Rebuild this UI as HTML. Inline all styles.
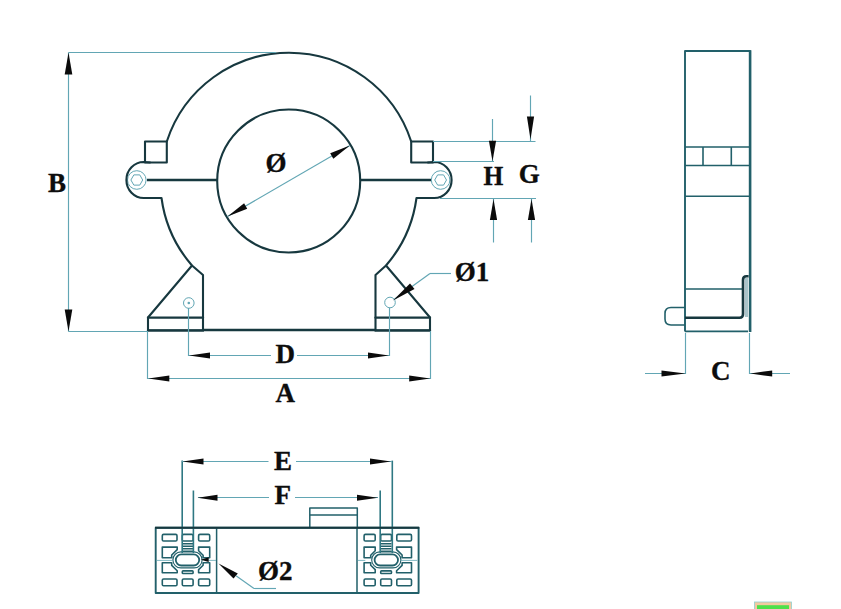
<!DOCTYPE html>
<html><head><meta charset="utf-8"><title>Dimensions</title>
<style>
html,body{margin:0;padding:0;background:#fff;}
body{width:841px;height:609px;overflow:hidden;}
svg{display:block;}
text{font-family:"Liberation Serif","DejaVu Serif",serif;font-weight:bold;fill:#0d0d0d;stroke:#0d0d0d;stroke-width:0.35px;}
</style></head><body>
<svg width="841" height="609" viewBox="0 0 841 609">
<rect width="841" height="609" fill="#fff"/>

<g fill="none" stroke="#62a6b4" stroke-width="1">
<circle cx="136.8" cy="180" r="9.3"/>
<polygon points="142.70,180.00 139.75,185.11 133.85,185.11 130.90,180.00 133.85,174.89 139.75,174.89"/>
<circle cx="440.6" cy="180" r="9.3"/>
<polygon points="446.50,180.00 443.55,185.11 437.65,185.11 434.70,180.00 437.65,174.89 443.55,174.89"/>
<circle cx="188.8" cy="303" r="5.3"/>
<circle cx="390" cy="302.5" r="5.3"/>
</g>
<circle cx="188.8" cy="303" r="1.3" fill="#62a6b4"/>
<g fill="none" stroke="#17383f" stroke-width="2.1" stroke-linejoin="round" stroke-linecap="round">
<path d="M166.8,141.5 A128.5,128.5 0 0 1 411.2,141.5"/>
<rect x="145" y="141.5" width="21.8" height="21"/>
<rect x="411.2" y="141.5" width="21.8" height="21"/>
<path d="M150,162.5 L143.7,162 A17.3,18 0 0 0 143.7,198 L161.5,198 A129.5,129.5 0 0 0 192,265.5 L148,317.5 L148,330.5 L203,330.5 L203,275 L192,265.5"/>
<path d="M428,162.5 L434.3,162 A17.3,18 0 0 1 434.3,198 L416.5,198 A129.5,129.5 0 0 1 386,265.5 L430,317.5 L430,330.5 L375.5,330.5 L375.5,275 L386,265.5"/>
<path d="M148,317.6 H203 M375.5,317.6 H430 M148,330.4 H203 M375.5,330.4 H430" stroke-width="2.4"/>
<circle cx="288.7" cy="181" r="71.5"/>
</g>
<g stroke="#17383f" stroke-width="2.6" fill="none">
<path d="M147,180 H217 M360.5,180 H431"/>
<path d="M203,330 H375.5"/>
</g>
<line x1="68.5" y1="52.5" x2="276" y2="52.5" stroke="#62a6b4" stroke-width="1.15"/>
<line x1="68.5" y1="52.5" x2="68.5" y2="331.5" stroke="#62a6b4" stroke-width="1.15"/>
<line x1="68.5" y1="331.5" x2="148" y2="331.5" stroke="#62a6b4" stroke-width="1.15"/>
<polygon points="68.50,52.50 72.30,74.50 64.70,74.50" fill="#0b0b0b"/>
<polygon points="68.50,331.50 64.70,309.50 72.30,309.50" fill="#0b0b0b"/>
<text x="48" y="191.5" font-size="27">B</text>
<line x1="227.5" y1="216.6" x2="349.9" y2="145.4" stroke="#62a6b4" stroke-width="1.15"/>
<polygon points="227.51,216.61 244.10,203.37 247.22,208.73" fill="#0b0b0b"/>
<polygon points="349.89,145.39 333.30,158.63 330.18,153.27" fill="#0b0b0b"/>
<text x="265.6" y="172" font-size="27">Ø</text>
<line x1="433" y1="141.5" x2="535.5" y2="141.5" stroke="#62a6b4" stroke-width="1.15"/>
<line x1="433" y1="161.5" x2="494" y2="161.5" stroke="#62a6b4" stroke-width="1.15"/>
<line x1="440" y1="198.5" x2="536" y2="198.5" stroke="#62a6b4" stroke-width="1.15"/>
<line x1="492.5" y1="119" x2="492.5" y2="161.5" stroke="#62a6b4" stroke-width="1.15"/>
<line x1="530.5" y1="95.5" x2="530.5" y2="141" stroke="#62a6b4" stroke-width="1.15"/>
<line x1="493.5" y1="199" x2="493.5" y2="242.5" stroke="#62a6b4" stroke-width="1.15"/>
<line x1="531.5" y1="199" x2="531.5" y2="242.5" stroke="#62a6b4" stroke-width="1.15"/>
<polygon points="492.50,161.30 488.90,140.80 496.10,140.80" fill="#0b0b0b"/>
<polygon points="530.50,139.60 526.90,116.60 534.10,116.60" fill="#0b0b0b"/>
<polygon points="493.50,199.00 497.10,220.00 489.90,220.00" fill="#0b0b0b"/>
<polygon points="531.50,199.00 535.10,220.00 527.90,220.00" fill="#0b0b0b"/>
<text x="483.4" y="185" font-size="27" textLength="19.8" lengthAdjust="spacingAndGlyphs">H</text>
<text x="518.8" y="183" font-size="27">G</text>
<line x1="394" y1="299.5" x2="430" y2="273.5" stroke="#62a6b4" stroke-width="1.15"/>
<line x1="430" y1="273.5" x2="451" y2="273.5" stroke="#62a6b4" stroke-width="1.15"/>
<polygon points="393,300.5 410,283.5 414.5,289" fill="#0b0b0b"/>
<text x="454.8" y="281" font-size="27">Ø1</text>
<line x1="188.5" y1="308" x2="188.5" y2="356" stroke="#62a6b4" stroke-width="1.15"/>
<line x1="389.5" y1="308" x2="389.5" y2="356" stroke="#62a6b4" stroke-width="1.15"/>
<line x1="189" y1="355.5" x2="271" y2="355.5" stroke="#62a6b4" stroke-width="1.15"/>
<line x1="297" y1="355.5" x2="389" y2="355.5" stroke="#62a6b4" stroke-width="1.15"/>
<polygon points="189.00,355.50 210.00,352.45 210.00,358.55" fill="#0b0b0b"/>
<polygon points="389.00,355.50 368.00,358.55 368.00,352.45" fill="#0b0b0b"/>
<text x="275.5" y="363" font-size="27">D</text>
<line x1="147.5" y1="331" x2="147.5" y2="379" stroke="#62a6b4" stroke-width="1.15"/>
<line x1="430.5" y1="331" x2="430.5" y2="379" stroke="#62a6b4" stroke-width="1.15"/>
<line x1="148" y1="378.5" x2="430" y2="378.5" stroke="#62a6b4" stroke-width="1.15"/>
<polygon points="148.30,378.50 169.30,375.45 169.30,381.55" fill="#0b0b0b"/>
<polygon points="430.20,378.50 409.20,381.55 409.20,375.45" fill="#0b0b0b"/>
<text x="275.5" y="401.5" font-size="27">A</text>
<path d="M746.4,278 V317" stroke="#a9c3c9" stroke-width="3.2" fill="none"/>
<g fill="none" stroke="#22606a" stroke-width="1.9" stroke-linejoin="round">
<path d="M685,331.4 V51 H750 V331.4"/>
<path d="M685,147 H750 M685,165.5 H750 M703,147 V165.5 M731.3,147 V165.5 M685,196.3 H750 M685,289 H742.5" stroke-width="1.6"/>
<path d="M685,331.4 H748"/>
<path d="M685,307.5 H671 Q665,307.5 665,313.5 V319 Q665,325 671,325 H685" stroke-width="1.6"/>
</g>
<path d="M685,317.8 H739.5 Q743,317.8 743,314.3 V280 Q743,276.3 746.5,276.3 H748.6" stroke="#17383f" stroke-width="2.6" fill="none" stroke-linejoin="round"/>
<path d="M750.1,50.2 V332" stroke="#22606a" stroke-width="2.6" fill="none"/>
<line x1="685.5" y1="333" x2="685.5" y2="374" stroke="#62a6b4" stroke-width="1.15"/>
<line x1="749.5" y1="333" x2="749.5" y2="374" stroke="#62a6b4" stroke-width="1.15"/>
<line x1="645" y1="373.5" x2="685" y2="373.5" stroke="#62a6b4" stroke-width="1.15"/>
<line x1="750" y1="373.5" x2="790" y2="373.5" stroke="#62a6b4" stroke-width="1.15"/>
<polygon points="685.50,373.50 661.50,376.55 661.50,370.45" fill="#0b0b0b"/>
<polygon points="750.20,373.50 772.20,370.45 772.20,376.55" fill="#0b0b0b"/>
<text x="711" y="380" font-size="27">C</text>
<g fill="none" stroke="#22606a" stroke-width="1.5" stroke-linejoin="round">
<rect x="155.7" y="527.8" width="262.9" height="65.2" stroke-width="1.9"/>
<path d="M216.6,527.6 V592.8 M357,527.6 V592.8"/>
<path d="M309.8,527.6 V508 H357.3 V527.6 M309.8,515 H357.3"/>
</g>
<g transform="translate(187.5,0) scale(1,1)" fill="none" stroke="#22606a" stroke-width="1.6" stroke-linejoin="round">
<rect x="-25.2" y="534.4" width="14.7" height="6.6" rx="1.3"/>
<rect x="-25.2" y="579" width="14.7" height="6.7" rx="1.3"/>
<rect x="-5.2" y="534.4" width="10.8" height="6.6" rx="1.3"/>
<rect x="-5.2" y="579" width="10.8" height="6.7" rx="1.3"/>
<rect x="11.1" y="534.4" width="11.1" height="6.6" rx="1.3"/>
<rect x="11.1" y="579" width="11.1" height="6.7" rx="1.3"/>
<path d="M-25.2,547.1 H-10.3 V549.6 L-15.8,555 V557.7 H-25.2 Z"/>
<path d="M-25.2,562.7 H-15.8 V565.4 L-10.3,570.8 V572.8 H-25.2 Z"/>
<path d="M11.1,547.1 H22.2 V557.7 H15.6 V555.2 L11.1,550.8 Z"/>
<path d="M15.6,562.7 H22.2 V572.8 H11.1 V569.6 L15.6,565.2 Z"/>
<rect x="-5.2" y="570.9" width="10.8" height="2.6" rx="0.8"/>
<path d="M-5.2,543.8 H5.8 M-5.2,546.3 H5.8 M-5.2,548.8 H5.8 M-5.2,551.2 H5.8"/>
<rect x="-11.7" y="554.4" width="23.4" height="11.1" rx="5.55" stroke-width="1.8"/>
<rect x="-14.6" y="551.9" width="29.2" height="16" rx="8" stroke-width="1.1"/>
</g>
<g transform="translate(187.5,0) scale(1,1)" fill="none" stroke="#62a6b4" stroke-width="0.8">
<path d="M-31,560.4 H-14.6 M21,560.4 H28.5"/>
</g>
<polygon transform="translate(187.5,0) scale(1,1)" points="13.3,559.7 21.2,557.2 21.2,562" fill="#0b0b0b"/>
<g transform="translate(386.3,0) scale(-1,1)" fill="none" stroke="#22606a" stroke-width="1.6" stroke-linejoin="round">
<rect x="-25.2" y="534.4" width="14.7" height="6.6" rx="1.3"/>
<rect x="-25.2" y="579" width="14.7" height="6.7" rx="1.3"/>
<rect x="-5.2" y="534.4" width="10.8" height="6.6" rx="1.3"/>
<rect x="-5.2" y="579" width="10.8" height="6.7" rx="1.3"/>
<rect x="11.1" y="534.4" width="11.1" height="6.6" rx="1.3"/>
<rect x="11.1" y="579" width="11.1" height="6.7" rx="1.3"/>
<path d="M-25.2,547.1 H-10.3 V549.6 L-15.8,555 V557.7 H-25.2 Z"/>
<path d="M-25.2,562.7 H-15.8 V565.4 L-10.3,570.8 V572.8 H-25.2 Z"/>
<path d="M11.1,547.1 H22.2 V557.7 H15.6 V555.2 L11.1,550.8 Z"/>
<path d="M15.6,562.7 H22.2 V572.8 H11.1 V569.6 L15.6,565.2 Z"/>
<rect x="-5.2" y="570.9" width="10.8" height="2.6" rx="0.8"/>
<path d="M-5.2,543.8 H5.8 M-5.2,546.3 H5.8 M-5.2,548.8 H5.8 M-5.2,551.2 H5.8"/>
<rect x="-11.7" y="554.4" width="23.4" height="11.1" rx="5.55" stroke-width="1.8"/>
<rect x="-14.6" y="551.9" width="29.2" height="16" rx="8" stroke-width="1.1"/>
</g>
<g transform="translate(386.3,0) scale(-1,1)" fill="none" stroke="#62a6b4" stroke-width="0.8">
<path d="M-31,560.4 H-14.6 M21,560.4 H28.5"/>
</g>
<line x1="182.2" y1="460.6" x2="182.2" y2="553" stroke="#2f7883" stroke-width="1.6"/>
<line x1="193.4" y1="490.5" x2="193.4" y2="553" stroke="#2f7883" stroke-width="1.6"/>
<line x1="392.3" y1="460.6" x2="392.3" y2="553" stroke="#2f7883" stroke-width="1.6"/>
<line x1="380.2" y1="490.5" x2="380.2" y2="553" stroke="#2f7883" stroke-width="1.6"/>
<line x1="182" y1="461.5" x2="268.5" y2="461.5" stroke="#62a6b4" stroke-width="1.15"/>
<line x1="296" y1="461.5" x2="392" y2="461.5" stroke="#62a6b4" stroke-width="1.15"/>
<line x1="198" y1="497.5" x2="269" y2="497.5" stroke="#62a6b4" stroke-width="1.15"/>
<line x1="295" y1="497.5" x2="378" y2="497.5" stroke="#62a6b4" stroke-width="1.15"/>
<polygon points="182.50,461.50 203.50,458.45 203.50,464.55" fill="#0b0b0b"/>
<polygon points="391.00,461.50 370.00,464.55 370.00,458.45" fill="#0b0b0b"/>
<polygon points="197.50,497.80 217.50,494.75 217.50,500.85" fill="#0b0b0b"/>
<polygon points="378.00,497.80 357.00,500.85 357.00,494.75" fill="#0b0b0b"/>
<text x="274" y="470" font-size="27">E</text>
<text x="274.5" y="503.5" font-size="27">F</text>
<path d="M155,527.7 H419.3" stroke="#17383f" stroke-width="2" fill="none"/>
<polygon points="218.5,563.5 237.8,573.5 233.5,578.5" fill="#0b0b0b"/>
<line x1="236" y1="575.7" x2="254" y2="588.5" stroke="#62a6b4" stroke-width="1.15"/>
<line x1="254" y1="588.5" x2="276" y2="588.5" stroke="#62a6b4" stroke-width="1.15"/>
<text x="258" y="580" font-size="27">Ø2</text>
<rect x="754.5" y="602" width="37" height="8" fill="#f3c9a0"/>
<rect x="757" y="605.2" width="32" height="6" fill="#4ee04a"/>
<rect x="754.5" y="602" width="37" height="8" fill="none" stroke="#8fd0d0" stroke-width="0.8"/>
</svg></body></html>
